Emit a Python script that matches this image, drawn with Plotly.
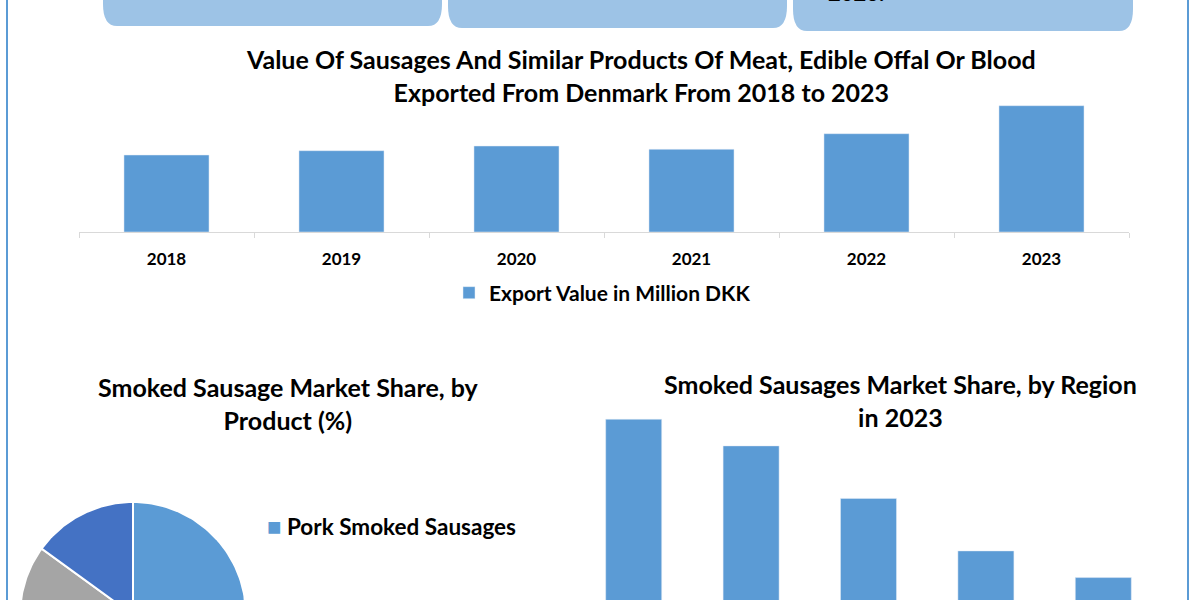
import numpy as np
import plotly.graph_objects as go

# ---------------- data ----------------
years = ["2018", "2019", "2020", "2021", "2022", "2023"]
export_values = [770, 813, 860, 827, 983, 1263]          # Million DKK (estimated)

regions = ["North America", "Europe", "Asia Pacific", "Middle East & Africa", "South America"]
region_shares = [29.8, 26.5, 20.0, 13.5, 10.2]          # % (estimated)

products = ["Pork Smoked Sausages", "Beef Smoked Sausages",
            "Chicken Smoked Sausages", "Other Smoked Sausages"]
product_shares = [42, 22, 21, 15]                        # % (estimated)

# ---------------- styles ----------------
BLUE = "#5B9BD5"
product_colors = ["#5B9BD5", "#ED7D31", "#A5A5A5", "#4472C4"]
FONT = "Lato"
W, H = 1200, 600


def px(x):
    return x / W


def py(y):
    return 1 - y / H


fig = go.Figure()

# Bar chart 1 : export value
fig.add_trace(go.Bar(
    x=years, y=export_values, name="Export Value in Million DKK",
    marker_color=BLUE, width=0.486, xaxis="x", yaxis="y", showlegend=True,
    legend="legend",
))

# Bar chart 2 : region share
fig.add_trace(go.Bar(
    x=regions, y=region_shares, name="Market Share",
    marker_color=BLUE, width=0.477, xaxis="x2", yaxis="y2", showlegend=False,
))

# Pie chart drawn as filled slices (partly outside the page)
cx, cy, r = 133, 615, 113
cum = np.concatenate([[0], np.cumsum(product_shares)]) / sum(product_shares) * 360
for i, lab in enumerate(products):
    a = np.radians(np.linspace(cum[i], cum[i + 1], 80))
    xs = np.concatenate([[cx], cx + r * np.sin(a), [cx]])
    ys = np.concatenate([[cy], cy - r * np.cos(a), [cy]])
    fig.add_trace(go.Scatter(
        x=xs, y=ys, mode="lines", fill="toself", fillcolor=product_colors[i],
        line=dict(color="white", width=2), name=lab, xaxis="x3", yaxis="y3",
        showlegend=False, hoverinfo="name",
    ))

# ---------------- annotations ----------------
TITLE_FONT = dict(family=FONT, size=25, color="black", weight="bold")
ann = []
ann.append(dict(
    text="Value Of Sausages And Similar Products Of Meat, Edible Offal Or Blood<br>"
         "Exported From Denmark From 2018 to 2023",
    x=px(641), y=py(75), xref="paper", yref="paper", xanchor="center", yanchor="middle",
    showarrow=False, font=TITLE_FONT,
))
ann.append(dict(
    text="Smoked Sausage Market Share, by<br>Product (%)",
    x=px(288), y=py(403), xref="paper", yref="paper", xanchor="center", yanchor="middle",
    showarrow=False, font=TITLE_FONT,
))
ann.append(dict(
    text="Smoked Sausages Market Share, by Region<br>in 2023",
    x=px(900), y=py(400), xref="paper", yref="paper", xanchor="center", yanchor="middle",
    showarrow=False, font=TITLE_FONT,
))
ann.append(dict(
    text="2023.", x=px(826), y=py(8), xref="paper", yref="paper", xanchor="left",
    yanchor="bottom", showarrow=False,
    font=dict(family=FONT, size=22, color="black", weight="bold"),
))
# pie legend
for i, lab in enumerate(products):
    ann.append(dict(
        text=f"<span style='color:{product_colors[i]};font-size:24px'>■</span> {lab}",
        x=px(265), y=py(525 + 87 * i), xref="paper", yref="paper", xanchor="left",
        yanchor="middle", showarrow=False,
        font=dict(family=FONT, size=22.5, color="black", weight="bold"),
    ))

# ---------------- shapes ----------------
shapes = []
# side borders
for xb in (7, 1188):
    shapes.append(dict(type="line", xref="paper", yref="paper", x0=px(xb), x1=px(xb),
                       y0=0, y1=1, line=dict(color=BLUE, width=2)))


def rounded_box(x0, x1, ybot, rx=14, ry=22):
    top = py(-30)
    return (f"M {px(x0)},{top} L {px(x0)},{py(ybot - ry)} "
            f"Q {px(x0)},{py(ybot)} {px(x0 + rx)},{py(ybot)} "
            f"L {px(x1 - rx)},{py(ybot)} "
            f"Q {px(x1)},{py(ybot)} {px(x1)},{py(ybot - ry)} "
            f"L {px(x1)},{top} Z")


for (x0, x1, yb) in [(103, 442, 26), (448, 787, 28), (793, 1133, 31)]:
    shapes.append(dict(type="path", xref="paper", yref="paper",
                       path=rounded_box(x0, x1, yb), fillcolor="#9DC3E6",
                       line=dict(width=0), layer="below"))

fig.update_layout(
    width=W, height=H, margin=dict(l=0, r=0, t=0, b=0),
    paper_bgcolor="white", plot_bgcolor="rgba(0,0,0,0)",
    font=dict(family=FONT, color="black"),
    xaxis=dict(domain=[px(79), px(1129)], anchor="y", showline=True, linecolor="#D9D9D9",
               linewidth=1, ticks="outside", tickson="boundaries", ticklen=5,
               tickcolor="#D9D9D9", ticklabelstandoff=12,
               tickfont=dict(family=FONT, size=17, color="black", weight="bold"),
               showgrid=False, zeroline=False, fixedrange=True),
    yaxis=dict(domain=[py(232), py(100)], anchor="x", range=[0, 1320], visible=False),
    xaxis2=dict(domain=[px(575), px(1162)], anchor="y2", visible=False),
    yaxis2=dict(domain=[0, py(400)], anchor="x2", range=[60 / 8.08, 260 / 8.08], visible=False),
    xaxis3=dict(domain=[0, px(262)], anchor="y3", range=[0, 262], visible=False),
    yaxis3=dict(domain=[0, py(490)], anchor="x3", range=[600, 490], visible=False),
    legend=dict(x=px(449), y=py(293), xanchor="left", yanchor="middle", orientation="h",
                font=dict(family=FONT, size=21, color="black", weight="bold"),
                bgcolor="rgba(0,0,0,0)"),
    annotations=ann, shapes=shapes, showlegend=True,
)

fig.write_html(
    "out.html",
    config={"displayModeBar": False},
    post_script="document.body.style.margin='0';document.body.style.overflow='hidden';",
)
